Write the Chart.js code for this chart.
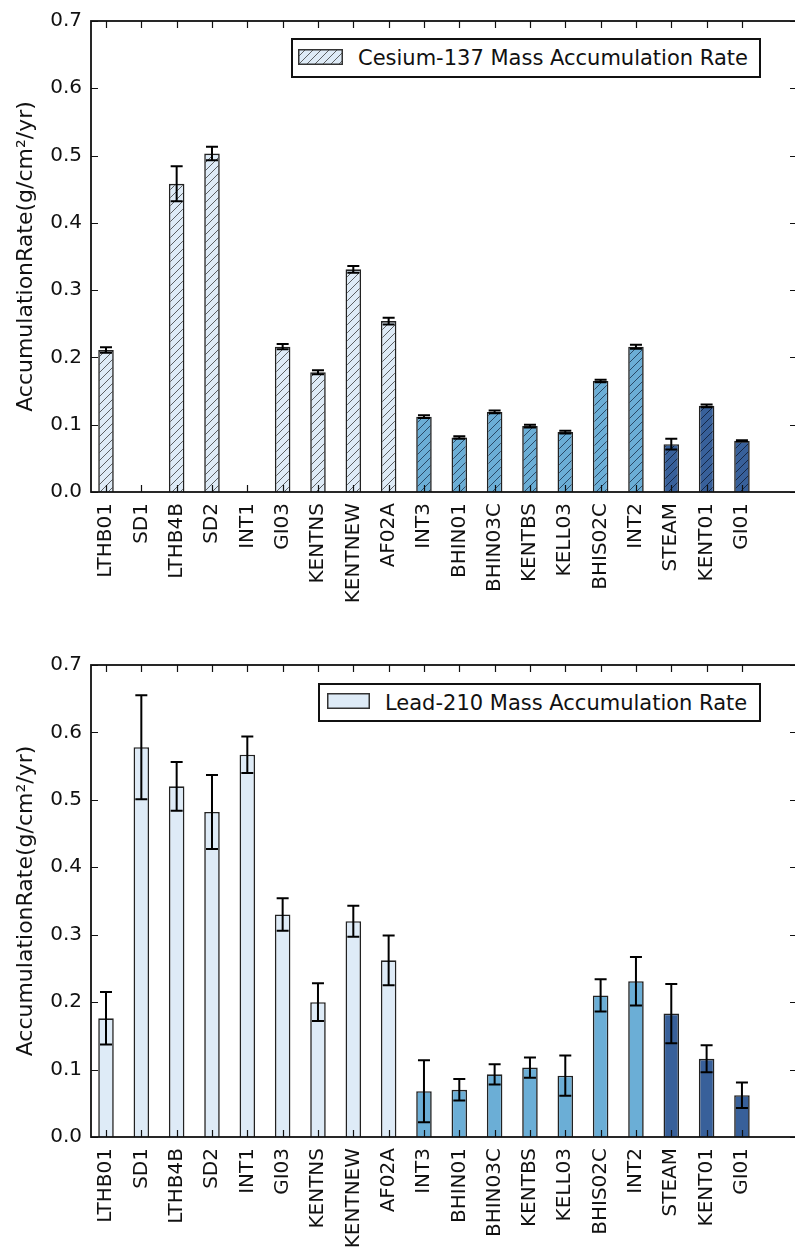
<!DOCTYPE html>
<html>
<head>
<meta charset="utf-8">
<title>Mass Accumulation Rates</title>
<script src="https://cdn.jsdelivr.net/npm/chart.js@4.4.0/dist/chart.umd.min.js"></script>
<style>
  body { margin: 0; background: #fff; font-family: "DejaVu Sans", sans-serif; }
  .panel { position: absolute; left: 0; width: 795px; overflow: hidden; }
  .legend {
    position: absolute; box-sizing: border-box; border: 2px solid #111;
    background: #fff; font-size: 21px; color: #111;
  }
  .legend canvas { position: absolute; }
  .legend span { position: absolute; white-space: nowrap; }
</style>
</head>
<body>
<div class="panel" style="top:0;height:640px">
  <canvas id="csChart" width="800" height="640"></canvas>
  <div class="legend" style="left:291px;top:38px;width:470px;height:40px">
    <canvas id="csPatch" width="45" height="16" style="left:5px;top:9px"></canvas>
    <span style="left:65px;top:6px">Cesium-137 Mass Accumulation Rate</span>
  </div>
</div>
<div class="panel" style="top:640px;height:616px">
  <canvas id="pbChart" width="800" height="616"></canvas>
  <div class="legend" style="left:318px;top:43px;width:443px;height:39px">
    <canvas id="pbPatch" width="43" height="16" style="left:7px;top:8px"></canvas>
    <span style="left:65px;top:6px">Lead-210 Mass Accumulation Rate</span>
  </div>
</div>

<script>
// ---------- data ----------
const sites = ["LTHB01", "SD1", "LTHB4B", "SD2", "INT1", "GI03", "KENTNS", "KENTNEW", "AF02A",
  "INT3", "BHIN01", "BHIN03C", "KENTBS", "KELL03", "BHIS02C", "INT2", "STEAM", "KENT01", "GI01"];
const siteGroup = [0, 0, 0, 0, 0, 0, 0, 0, 0, 1, 1, 1, 1, 1, 1, 1, 2, 2, 2];

const csValues = [0.211, null, 0.458, 0.503, null, 0.216, 0.178, 0.331, 0.254,
  0.112, 0.081, 0.119, 0.098, 0.089, 0.165, 0.216, 0.071, 0.128, 0.076];
const csErrors = [0.004, null, 0.026, 0.010, null, 0.004, 0.003, 0.005, 0.005,
  0.002, 0.002, 0.002, 0.002, 0.002, 0.002, 0.003, 0.008, 0.002, 0.001];

const pbValues = [0.176, 0.578, 0.520, 0.482, 0.567, 0.330, 0.200, 0.320, 0.262,
  0.068, 0.070, 0.093, 0.103, 0.091, 0.210, 0.231, 0.183, 0.116, 0.062];
const pbErrors = [0.039, 0.077, 0.036, 0.055, 0.027, 0.024, 0.028, 0.023, 0.037,
  0.046, 0.016, 0.015, 0.015, 0.030, 0.024, 0.036, 0.044, 0.020, 0.019];

const yMin = 0;
const yMax = 0.7;
const yStep = 0.1;
const yTitle = "AccumulationRate(g/cm²/yr)";

// ---------- style ----------
const groupColors = ["#deebf7", "#6baed6", "#38609a"];
const hatchColors = ["rgba(50,50,50,0.75)", "rgba(20,40,65,0.75)", "rgba(10,20,40,0.75)"];
const edgeColor = "#222";
const textColor = "#111";

Chart.defaults.font.family = "'DejaVu Sans', sans-serif";
Chart.defaults.color = textColor;

function makeHatch(fill, line) {
  const c = document.createElement("canvas");
  c.width = 8; c.height = 8;
  const g = c.getContext("2d");
  g.fillStyle = fill;
  g.fillRect(0, 0, 8, 8);
  g.strokeStyle = line;
  g.lineWidth = 1;
  g.beginPath();
  g.moveTo(0, 8); g.lineTo(8, 0);
  g.moveTo(-4, 4); g.lineTo(4, -4);
  g.moveTo(4, 12); g.lineTo(12, 4);
  g.stroke();
  return g.createPattern(c, "repeat");
}

// frame, inward ticks and error bars (matplotlib-like)
const framePlugin = {
  id: "frame",
  afterDatasetsDraw(chart, args, opts) {
    const ctx = chart.ctx;
    const ys = chart.scales.y;
    const meta = chart.getDatasetMeta(0);
    const vals = chart.data.datasets[0].data;
    ctx.save();
    ctx.strokeStyle = "#000";
    ctx.lineWidth = 2;
    meta.data.forEach((bar, i) => {
      const v = vals[i].y;
      const e = opts.errors[i];
      if (v == null || e == null) return;
      const yTop = ys.getPixelForValue(v + e);
      const yBot = ys.getPixelForValue(v - e);
      ctx.beginPath();
      ctx.moveTo(bar.x, yTop); ctx.lineTo(bar.x, yBot);
      ctx.moveTo(bar.x - 6, yTop); ctx.lineTo(bar.x + 6, yTop);
      ctx.moveTo(bar.x - 6, yBot); ctx.lineTo(bar.x + 6, yBot);
      ctx.stroke();
    });
    ctx.restore();
  },
  afterDraw(chart) {
    const { ctx, chartArea: a } = chart;
    const xs = chart.scales.x;
    const ys = chart.scales.y;
    ctx.save();
    ctx.strokeStyle = "#111";
    ctx.lineWidth = 1.2;
    ctx.beginPath();
    sites.forEach((s, i) => {
      const x = Math.round(xs.getPixelForValue(i)) + 0.5;
      ctx.moveTo(x, a.top); ctx.lineTo(x, a.top + 7);
      ctx.moveTo(x, a.bottom); ctx.lineTo(x, a.bottom - 7);
    });
    for (let v = yMin; v <= yMax + 1e-9; v += yStep) {
      const y = Math.round(ys.getPixelForValue(v)) + 0.5;
      ctx.moveTo(a.left, y); ctx.lineTo(a.left + 7, y);
      ctx.moveTo(a.right, y); ctx.lineTo(a.right - 6, y);
    }
    ctx.stroke();
    ctx.lineWidth = 1.8;
    ctx.strokeRect(a.left, a.top, a.right - a.left, a.bottom - a.top);
    ctx.restore();
  }
};

function buildChart(id, values, errors, hatched, padTop, xHeight) {
  const fills = siteGroup.map(g => hatched ? makeHatch(groupColors[g], hatchColors[g]) : groupColors[g]);
  return new Chart(document.getElementById(id), {
    type: "bar",
    data: {
      datasets: [{
        data: values.map((v, i) => ({ x: i, y: v })),
        backgroundColor: fills,
        borderColor: edgeColor,
        borderWidth: 1.6,
        barPercentage: 0.44,
        categoryPercentage: 1,
      }],
    },
    options: {
      responsive: false,
      animation: false,
      events: [],
      layout: { padding: { top: padTop, right: 4, left: 0, bottom: 0 } },
      plugins: {
        legend: { display: false },
        tooltip: { enabled: false },
        frame: { errors: errors },
      },
      scales: {
        x: {
          type: "linear",
          offset: false,
          min: -0.4245,
          max: 19.53,
          grid: { display: false, drawTicks: false, offset: false },
          border: { display: false },
          afterBuildTicks: s => { s.ticks = sites.map((_, i) => ({ value: i })); },
          ticks: {
            autoSkip: false, minRotation: 90, maxRotation: 90, padding: 11,
            font: { size: 20 }, color: textColor,
            callback: v => sites[Math.round(v)],
          },
          afterFit: s => { s.height = xHeight; },
        },
        y: {
          min: yMin,
          max: yMax,
          grid: { display: false, drawTicks: false },
          border: { display: false },
          ticks: {
            stepSize: yStep, padding: 9, font: { size: 20 }, color: textColor,
            callback: v => v.toFixed(1),
          },
          title: {
            display: true, text: yTitle, color: textColor,
            font: { size: 22 }, padding: { top: 13, bottom: 0 },
          },
          afterFit: s => { s.width = 91; },
        },
      },
    },
    plugins: [framePlugin],
  });
}

buildChart("csChart", csValues, csErrors, true, 20, 148);
buildChart("pbChart", pbValues, pbErrors, false, 25, 119);

// legend swatches
function drawPatch(id, fill) {
  const c = document.getElementById(id);
  const g = c.getContext("2d");
  g.fillStyle = fill;
  g.fillRect(0, 0, c.width, c.height);
  g.strokeStyle = "#333";
  g.lineWidth = 1.5;
  g.strokeRect(0.75, 0.75, c.width - 1.5, c.height - 1.5);
}
drawPatch("csPatch", makeHatch(groupColors[0], hatchColors[0]));
drawPatch("pbPatch", groupColors[0]);
</script>
</body>
</html>
